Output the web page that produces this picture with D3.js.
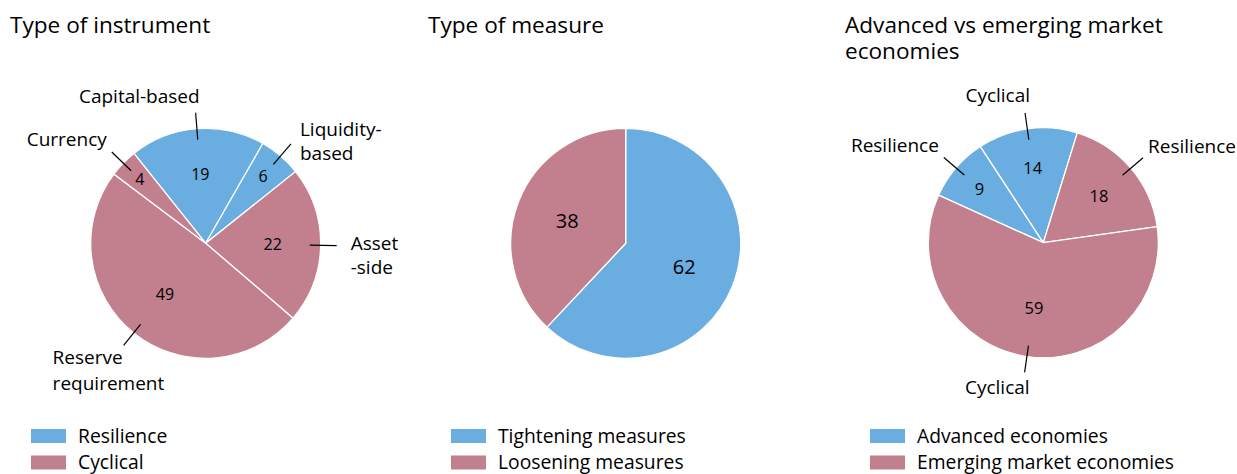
<!DOCTYPE html>
<html>
<head>
<meta charset="utf-8">
<script src="https://cdn.jsdelivr.net/npm/d3@7"></script>
<style>
  body { margin: 0; background: #fff; }
  text { font-family: "Open Sans", "Noto Sans", sans-serif; fill: #000; }
  .title { font-size: 22.6px; }
  .legend { font-size: 19.3px; }
  .outer { font-size: 19px; }
  .value { font-size: 16px; }
</style>
</head>
<body>
<div id="viz"></div>
<script>
// Data
var instrumentCats = ["Capital-based", "Liquidity-based", "Asset-side", "Reserve requirement", "Currency"];
var instrumentVals = [19, 6, 22, 49, 4];
var instrumentType = ["Resilience", "Resilience", "Cyclical", "Cyclical", "Cyclical"];

var measureCats = ["Tightening measures", "Loosening measures"];
var measureVals = [62, 38];

var economyCats = ["Resilience", "Cyclical", "Resilience", "Cyclical"];
var economyVals = [9, 14, 18, 59];
var economyGroup = ["Advanced economies", "Advanced economies", "Emerging market economies", "Emerging market economies"];

var legendInstrument = ["Resilience", "Cyclical"];
var legendMeasure = ["Tightening measures", "Loosening measures"];
var legendEconomy = ["Advanced economies", "Emerging market economies"];

var blue = "#6aade0", pink = "#c27f8e";
var deg = Math.PI / 180;
var R = 115;

var svg = d3.select("#viz").append("svg")
    .attr("width", 1237)
    .attr("height", 474);

// colour by first / second legend entry
function colorFor(legend) {
    return d3.scaleOrdinal().domain(legend).range([blue, pink]);
}

// label layout for the slices that have an outside label
// lines: text split in rows, dx/dy relative to the end of the leader line
var layoutInstrument = [
    {lines: ["Capital-based"], anchor: "end", dx: 4, dy: [-17], r: 70},
    {lines: ["Liquidity-", "based"], anchor: "start", dx: 9, dy: [-15, 9], r: 88},
    {lines: ["Asset", "-side"], anchor: "start", dx: 14, dy: [-3, 21], r: 67},
    {lines: ["Reserve", "requirement"], anchor: "start", dx: -71, dy: [12, 38], r: 65},
    {lines: ["Currency"], anchor: "end", dx: -5, dy: [-13], r: 92}
];
var layoutMeasure = [
    {lines: [], r: 63},
    {lines: [], r: 63}
];
var layoutEconomy = [
    {lines: ["Resilience"], anchor: "end", dx: -5, dy: [-12], r: 84},
    {lines: ["Cyclical"], anchor: "end", dx: 5, dy: [-18], r: 76},
    {lines: ["Resilience"], anchor: "start", dx: 5, dy: [-12], r: 73},
    {lines: ["Cyclical"], anchor: "end", dx: 5, dy: [15], r: 65}
];

function drawPie(opts) {
    var g = svg.append("g")
        .attr("transform", "translate(" + opts.cx + "," + opts.cy + ")");

    var rows = opts.values.map(function(v, i) {
        return {value: v, key: opts.keys[i], layout: opts.layout[i]};
    });

    var pie = d3.pie()
        .sort(null)
        .startAngle(opts.start * deg)
        .endAngle(opts.start * deg + 2 * Math.PI)
        .value(function(d) { return d.value; });

    var arc = d3.arc().innerRadius(0).outerRadius(R);
    var color = colorFor(opts.legend);
    var arcs = pie(rows);

    g.selectAll("path")
        .data(arcs)
        .enter().append("path")
        .attr("d", arc)
        .attr("fill", function(d) { return color(d.data.key); })
        .attr("stroke", "#fff")
        .attr("stroke-width", 1.3);

    function pt(d, r) {
        var a = (d.startAngle + d.endAngle) / 2;
        return [r * Math.sin(a), -r * Math.cos(a)];
    }

    // values inside the slices
    g.selectAll("text.value")
        .data(arcs)
        .enter().append("text")
        .attr("class", "value")
        .style("font-size", opts.valueSize + "px")
        .attr("text-anchor", "middle")
        .attr("dominant-baseline", "central")
        .attr("x", function(d) { return pt(d, d.data.layout.r)[0]; })
        .attr("y", function(d) { return pt(d, d.data.layout.r)[1]; })
        .text(function(d) { return d.data.value; });

    // leader lines and outside labels
    var withLabel = arcs.filter(function(d) { return d.data.layout.lines.length > 0; });

    g.selectAll("line.leader")
        .data(withLabel)
        .enter().append("line")
        .attr("x1", function(d) { return pt(d, 104)[0]; })
        .attr("y1", function(d) { return pt(d, 104)[1]; })
        .attr("x2", function(d) { return pt(d, 131)[0]; })
        .attr("y2", function(d) { return pt(d, 131)[1]; })
        .attr("stroke", "#000")
        .attr("stroke-width", 1.2);

    withLabel.forEach(function(d) {
        var p = pt(d, 131), L = d.data.layout;
        L.lines.forEach(function(s, j) {
            g.append("text")
                .attr("class", "outer")
                .attr("text-anchor", L.anchor)
                .attr("dominant-baseline", "central")
                .attr("x", p[0] + L.dx)
                .attr("y", p[1] + L.dy[j])
                .text(s);
        });
    });

    // title
    opts.title.forEach(function(s, j) {
        svg.append("text")
            .attr("class", "title")
            .attr("x", opts.tx)
            .attr("y", 33 + j * 25.5)
            .text(s);
    });

    // legend
    var lg = svg.append("g")
        .attr("transform", "translate(" + opts.lx + ",429)");
    opts.legend.forEach(function(s, j) {
        lg.append("rect")
            .attr("x", 0)
            .attr("y", j * 26.5)
            .attr("width", 35)
            .attr("height", 14)
            .attr("fill", color(s));
        lg.append("text")
            .attr("class", "legend")
            .attr("x", 47)
            .attr("y", j * 26 + 6.5)
            .attr("dominant-baseline", "central")
            .text(s);
    });
}

drawPie({
    cx: 205.7, cy: 243.3, start: -38.6,
    values: instrumentVals, keys: instrumentType, layout: layoutInstrument,
    legend: legendInstrument, valueSize: 16,
    title: ["Type of instrument"], tx: 10, lx: 31
});

drawPie({
    cx: 625.7, cy: 243.3, start: 0,
    values: measureVals, keys: measureCats, layout: layoutMeasure,
    legend: legendMeasure, valueSize: 20,
    title: ["Type of measure"], tx: 428, lx: 451
});

drawPie({
    cx: 1043.3, cy: 242.7, start: -65.6,
    values: economyVals, keys: economyGroup, layout: layoutEconomy,
    legend: legendEconomy, valueSize: 16.5,
    title: ["Advanced vs emerging market", "economies"], tx: 845, lx: 870
});
</script>
</body>
</html>
